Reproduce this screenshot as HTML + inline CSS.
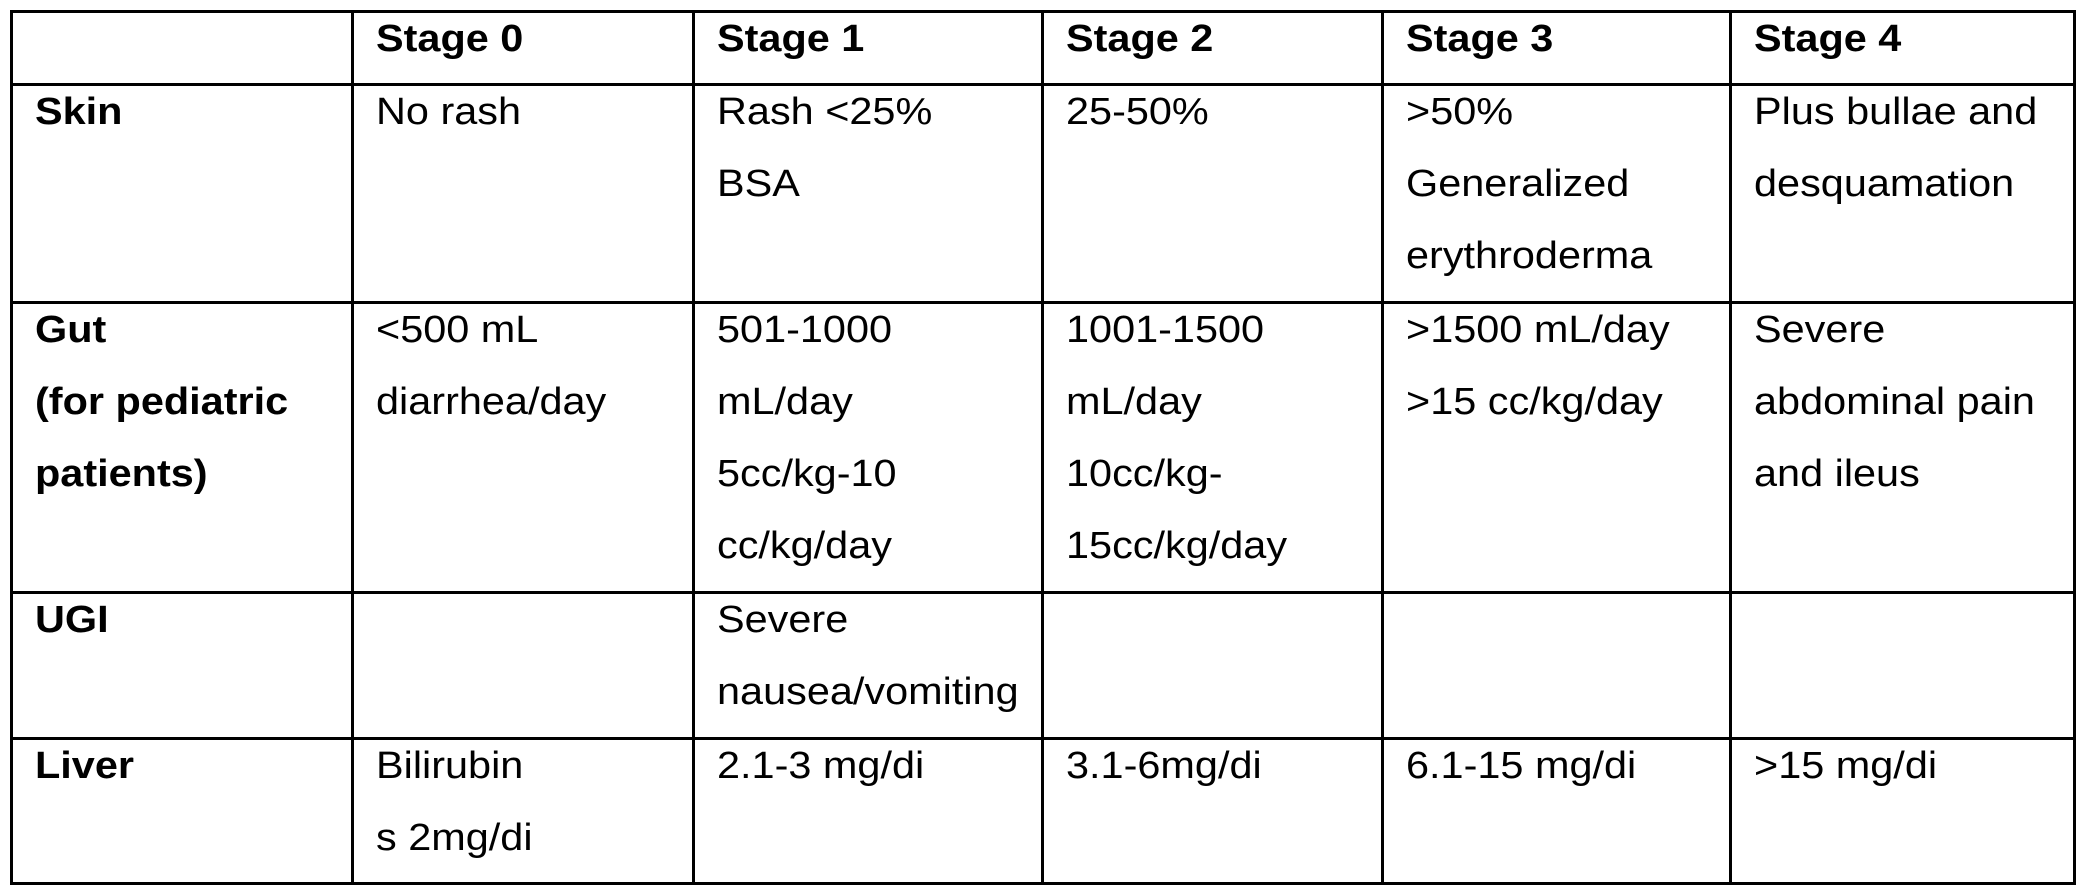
<!DOCTYPE html>
<html><head><meta charset="utf-8"><style>
html,body{margin:0;padding:0;background:#fff;}
body{width:2079px;height:896px;position:relative;overflow:hidden;font-family:"Liberation Sans",Arial,sans-serif;color:#000;}
.h{position:absolute;height:3px;background:#000;left:10px;width:2065px;}
.v{position:absolute;width:3px;background:#000;top:10px;height:875px;}
.t{position:absolute;font-size:38px;line-height:72px;white-space:nowrap;transform:scaleX(1.09);transform-origin:0 0;}
.b{font-weight:bold;}
</style></head><body>
<div class="h" style="top:10px"></div>
<div class="h" style="top:83px"></div>
<div class="h" style="top:301px"></div>
<div class="h" style="top:591px"></div>
<div class="h" style="top:737px"></div>
<div class="h" style="top:882px"></div>
<div class="v" style="left:10px"></div>
<div class="v" style="left:351px"></div>
<div class="v" style="left:692px"></div>
<div class="v" style="left:1041px"></div>
<div class="v" style="left:1381px"></div>
<div class="v" style="left:1729px"></div>
<div class="v" style="left:2073px"></div>

<div class="t b" style="left:376px;top:3px">Stage 0</div>
<div class="t b" style="left:717px;top:3px">Stage 1</div>
<div class="t b" style="left:1066px;top:3px">Stage 2</div>
<div class="t b" style="left:1406px;top:3px">Stage 3</div>
<div class="t b" style="left:1754px;top:3px">Stage 4</div>

<div class="t b" style="left:35px;top:76px">Skin</div>
<div class="t" style="left:376px;top:76px">No rash</div>
<div class="t" style="left:717px;top:76px">Rash &lt;25%<br>BSA</div>
<div class="t" style="left:1066px;top:76px">25-50%</div>
<div class="t" style="left:1406px;top:76px">&gt;50%<br>Generalized<br>erythroderma</div>
<div class="t" style="left:1754px;top:76px">Plus bullae and<br>desquamation</div>

<div class="t b" style="left:35px;top:294px">Gut<br>(for pediatric<br>patients)</div>
<div class="t" style="left:376px;top:294px">&lt;500 mL<br>diarrhea/day</div>
<div class="t" style="left:717px;top:294px">501-1000<br>mL/day<br>5cc/kg-10<br>cc/kg/day</div>
<div class="t" style="left:1066px;top:294px">1001-1500<br>mL/day<br>10cc/kg-<br>15cc/kg/day</div>
<div class="t" style="left:1406px;top:294px">&gt;1500 mL/day<br>&gt;15 cc/kg/day</div>
<div class="t" style="left:1754px;top:294px">Severe<br>abdominal pain<br>and ileus</div>

<div class="t b" style="left:35px;top:584px">UGI</div>
<div class="t" style="left:717px;top:584px">Severe<br>nausea/vomiting</div>

<div class="t b" style="left:35px;top:730px">Liver</div>
<div class="t" style="left:376px;top:730px">Bilirubin<br>s 2mg/di</div>
<div class="t" style="left:717px;top:730px">2.1-3 mg/di</div>
<div class="t" style="left:1066px;top:730px">3.1-6mg/di</div>
<div class="t" style="left:1406px;top:730px">6.1-15 mg/di</div>
<div class="t" style="left:1754px;top:730px">&gt;15 mg/di</div>
</body></html>
